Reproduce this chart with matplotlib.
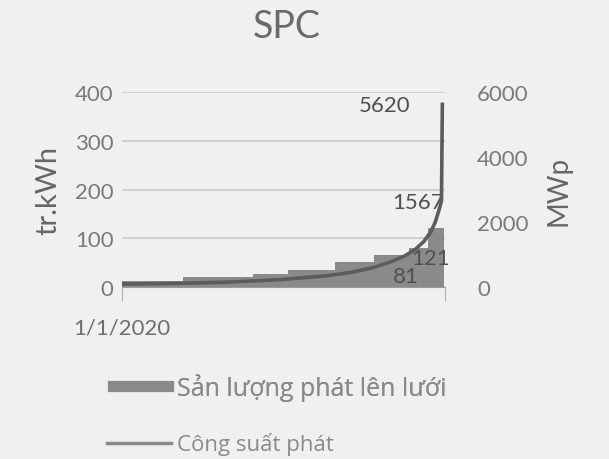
import datetime as dt
import matplotlib
matplotlib.use("Agg")
import matplotlib.pyplot as plt
from matplotlib.lines import Line2D

plt.rcParams['font.family'] = ['Lato', 'DejaVu Sans']

# San luong phat len luoi (tr.kWh) - stepped area, start day of each step
start = dt.date(2020, 1, 1)
step_days = [0, 69, 148, 188, 241, 285, 325, 347, 365]
step_vals = [12, 20, 27, 34, 51, 65, 81, 121, 121]

# Cong suat phat (MWp)
line_days = [0, 60, 120, 180, 230, 260, 285, 305, 320, 332, 342, 350, 355, 359, 362, 363]
line_vals = [90, 110, 150, 230, 340, 450, 600, 780, 950, 1150, 1400, 1700, 2000, 2350, 2650, 5620]

step_x = [start + dt.timedelta(days=d) for d in step_days]
line_x = [start + dt.timedelta(days=d) for d in line_days]

bg = '#f0f0f0'
fig = plt.figure(figsize=(6.09, 4.6), dpi=100, facecolor=bg)
ax = fig.add_axes([0.2003, 0.3739, 0.5304, 0.4239])
ax.set_facecolor(bg)

ax.fill_between(step_x, step_vals, step='post', color='#8a8a8a', lw=0, zorder=2)
ax.set_ylim(0, 400)
ax.set_yticks([0, 100, 200, 300, 400])
ax.set_xlim(start, start + dt.timedelta(days=366))
ax.grid(axis='y', color='#c9c9c9', lw=1.2, zorder=0)
for s in ['top', 'right', 'left']:
    ax.spines[s].set_visible(False)
ax.spines['bottom'].set_color('#9a9a9a')
ax.set_xticks([start, start + dt.timedelta(days=366)])
ax.set_xticklabels(['1/1/2020', ''])
ax.tick_params(axis='x', length=10, color='#b0b0b0', pad=12, labelsize=16, labelcolor='#6e6e6e')
ax.tick_params(axis='y', length=0, pad=6, labelsize=16, labelcolor='#7a7a7a')
ax.set_ylabel('tr.kWh', fontsize=21, color='#666666', labelpad=10)

ax2 = ax.twinx()
ax2.plot(line_x, line_vals, color='#5c5c5c', lw=2.6, zorder=3)
ax2.set_ylim(0, 6000)
ax2.set_yticks([0, 2000, 4000, 6000])
for s in ax2.spines.values():
    s.set_visible(False)
ax2.tick_params(axis='y', length=0, pad=23, labelsize=16, labelcolor='#7a7a7a')
ax2.set_ylabel('MWp', fontsize=20, color='#666666', labelpad=12)

# data labels
lab = dict(fontsize=16, color='#505050', ha='center', va='center', zorder=5)
ax.text(start + dt.timedelta(days=298), 373, '5620', **lab)
ax.text(start + dt.timedelta(days=335), 174, '1567', **lab)
ax.text(start + dt.timedelta(days=350), 59, '121', **lab)
ax.text(start + dt.timedelta(days=322), 23, '81', **lab)

fig.text(287 / 609, 1 - 27 / 460, 'SPC', fontsize=27, color='#6a6a6a', ha='center', va='center')

leg1 = fig.legend([Line2D([], [], color='#8a8a8a', lw=8)], ['Sản lượng phát lên lưới'],
                  loc='center left', bbox_to_anchor=(113 / 609, 1 - 388 / 460), frameon=False,
                  prop={'family': ['Open Sans', 'DejaVu Sans'], 'size': 18},
                  handlelength=2.2, handletextpad=0.35, borderpad=0, borderaxespad=0,
                  labelcolor='#8a8a8a')
leg2 = fig.legend([Line2D([], [], color='#8a8a8a', lw=2.5)], ['Công suất phát'],
                  loc='center left', bbox_to_anchor=(107 / 609, 1 - 445 / 460), frameon=False,
                  prop={'family': ['Open Sans', 'DejaVu Sans'], 'size': 16},
                  handlelength=2.9, handletextpad=0.25, borderpad=0, borderaxespad=0,
                  labelcolor='#8a8a8a')
fig.add_artist(leg1)

fig.savefig('out.png', dpi=100, facecolor=bg)
